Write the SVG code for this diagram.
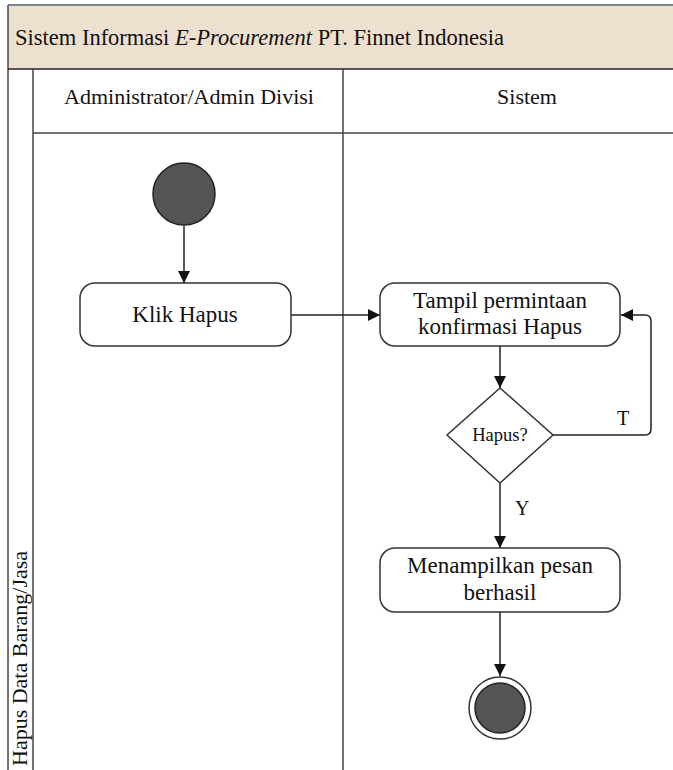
<svg xmlns="http://www.w3.org/2000/svg" width="673" height="770" viewBox="0 0 673 770">
  <defs>
    <marker id="arrow" viewBox="0 0 12 12" refX="12" refY="6" markerWidth="12" markerHeight="12" markerUnits="userSpaceOnUse" orient="auto">
      <path d="M0,0 L12,6 L0,12 Z" fill="#111"/>
    </marker>
  </defs>
  <style>
    .frame { fill: none; stroke: #444; stroke-width: 1.5; }
    .edge { fill: none; stroke: #222; stroke-width: 1.5; }
    .act { fill: #fff; stroke: #333; stroke-width: 1.5; }
    .t { font-family: "Liberation Serif", "Times New Roman", serif; fill: #111; }
    .lbl { font-size: 23px; text-anchor: middle; }
    .hdr { font-size: 22px; text-anchor: middle; }
    .dot { fill: #555; stroke: #222; stroke-width: 1.5; }
  </style>

  <rect width="673" height="770" fill="#fff"/>

  <!-- pool header -->
  <g id="pool">
    <rect x="8" y="5" width="666" height="64" fill="#eee0cf"/>
    <line x1="8" y1="5" x2="673" y2="5" stroke="#7d8590" stroke-width="2"/>
    <line x1="8" y1="5" x2="8" y2="770" class="frame"/>
    <line x1="8" y1="69" x2="673" y2="69" stroke="#222" stroke-width="1.5"/>
    <text class="t" x="15" y="45" font-size="22.5">Sistem Informasi <tspan font-style="italic">E-Procurement</tspan> PT. Finnet Indonesia</text>
  </g>

  <!-- swimlanes -->
  <g id="lanes">
    <line x1="33" y1="69" x2="33" y2="770" class="frame"/>
    <line x1="343" y1="69" x2="343" y2="770" class="frame"/>
    <line x1="33" y1="133" x2="673" y2="133" class="frame"/>
    <text class="t hdr" x="189" y="104">Administrator/Admin Divisi</text>
    <text class="t hdr" x="527" y="104">Sistem</text>
    <text class="t" font-size="22" transform="translate(27,766) rotate(-90)">Hapus Data Barang/Jasa</text>
  </g>

  <!-- connectors -->
  <g id="connectors">
    <line x1="184" y1="226" x2="184" y2="283" class="edge" marker-end="url(#arrow)"/>
    <line x1="291" y1="315" x2="380" y2="315" class="edge" marker-end="url(#arrow)"/>
    <line x1="500" y1="346" x2="500" y2="388" class="edge" marker-end="url(#arrow)"/>
    <path d="M553,435 H645 Q651,435 651,429 V321 Q651,315 645,315 H621" class="edge" marker-end="url(#arrow)"/>
    <line x1="500" y1="483" x2="500" y2="548" class="edge" marker-end="url(#arrow)"/>
    <line x1="500" y1="612" x2="500" y2="676" class="edge" marker-end="url(#arrow)"/>
    <text class="t" x="617" y="425" font-size="20">T</text>
    <text class="t" x="515" y="515" font-size="20">Y</text>
  </g>

  <g id="start">
    <circle cx="184" cy="194" r="31" class="dot"/>
  </g>

  <g id="klik-hapus">
    <rect x="80" y="283" width="211" height="63" rx="15" class="act"/>
    <text class="t lbl" x="185" y="322">Klik Hapus</text>
  </g>

  <g id="tampil-konfirmasi">
    <rect x="380" y="283" width="240" height="63" rx="15" class="act"/>
    <text class="t lbl" x="500" y="308">Tampil permintaan</text>
    <text class="t lbl" x="500" y="334">konfirmasi Hapus</text>
  </g>

  <g id="decision">
    <polygon points="500,388 553,435 500,483 447,435" class="act"/>
    <text class="t" x="500" y="441" font-size="18.5" text-anchor="middle">Hapus?</text>
  </g>

  <g id="pesan-berhasil">
    <rect x="380" y="548" width="240" height="64" rx="15" class="act"/>
    <text class="t lbl" x="500" y="573">Menampilkan pesan</text>
    <text class="t lbl" x="500" y="600">berhasil</text>
  </g>

  <g id="end">
    <circle cx="500" cy="708" r="31" fill="#fff" stroke="#333" stroke-width="1.5"/>
    <circle cx="500" cy="708" r="25" class="dot"/>
  </g>
</svg>
